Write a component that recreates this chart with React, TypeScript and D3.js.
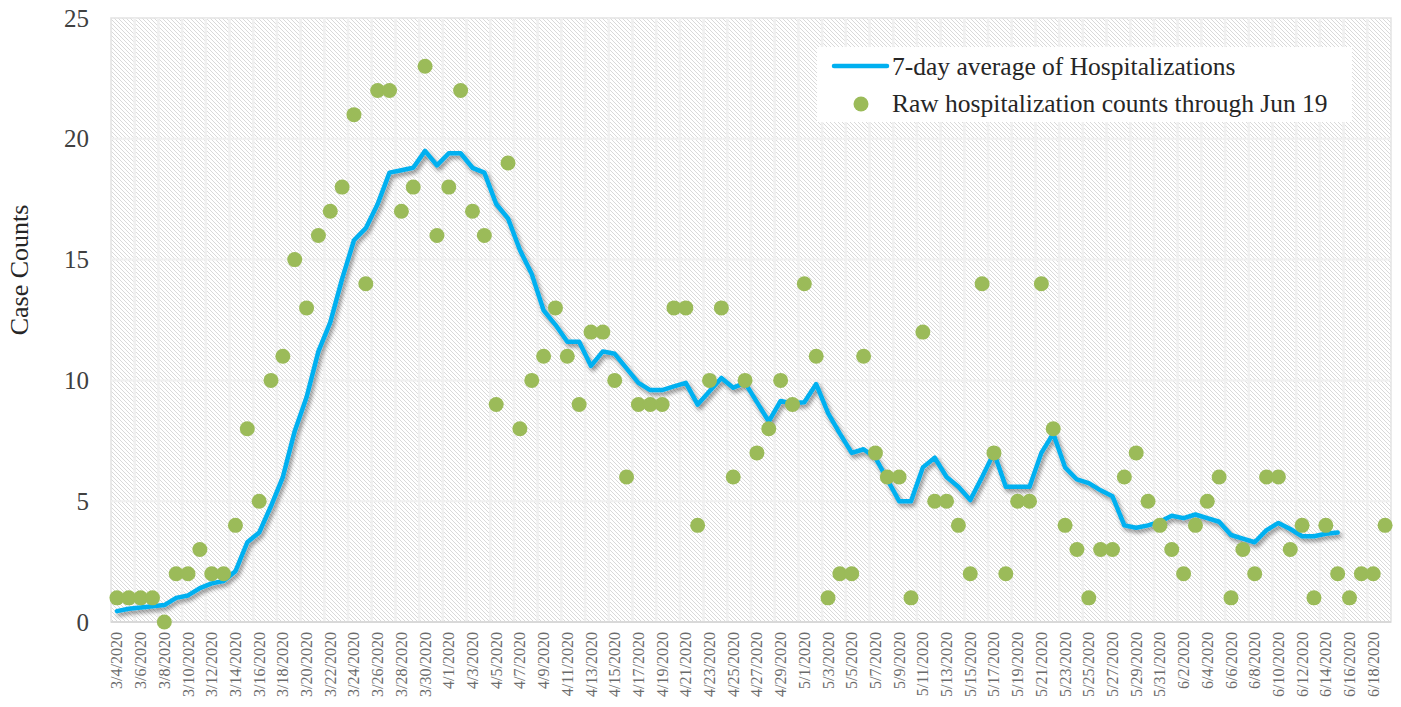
import * as d3 from "d3";
import { useEffect, useRef } from "react";

// one entry per day, 3/4/2020 .. 6/19/2020
const days = d3.timeDay.range(new Date(2020, 2, 4), new Date(2020, 5, 20));
const dateLabels = days.map((d) => `${d.getMonth() + 1}/${d.getDate()}/${d.getFullYear()}`);

const rawCounts = [
    1, 1, 1, 1, 0, 2, 2, 3, 2, 2, 4, 8, 5, 10, 11, 15, 13, 16, 17, 18, 21, 14, 22, 22, 17, 18, 23, 16,
    18, 22, 17, 16, 9, 19, 8, 10, 11, 13, 11, 9, 12, 12, 10, 6, 9, 9, 9, 13, 13, 4, 10, 13, 6, 10, 7, 8, 10, 9,
    14, 11, 1, 2, 2, 11, 7, 6, 6, 1, 12, 5, 5, 4, 2, 14, 7, 2, 5, 5, 14, 8, 4, 3, 1, 3, 3, 6, 7, 5, 4,
    3, 2, 4, 5, 6, 1, 3, 2, 6, 6, 3, 4, 1, 4, 2, 1, 2, 2, 4,
];

// 7-day average, runs through 6/15
const avg7 = [
    0.45, 0.55, 0.6, 0.65, 0.7, 1.0, 1.1, 1.4, 1.6, 1.7, 2.1, 3.3, 3.7, 4.8, 6.0, 7.9, 9.3, 11.2, 12.4,
    14.2, 15.8, 16.3, 17.3, 18.6, 18.7, 18.8, 19.5, 18.9, 19.4, 19.4, 18.8, 18.6,
    17.3, 16.7, 15.4, 14.4, 12.9, 12.3, 11.6, 11.6, 10.6, 11.2, 11.1, 10.5, 9.9, 9.6, 9.6, 9.75, 9.9, 9.0,
    9.55, 10.1, 9.7, 9.9, 9.1, 8.3, 9.15, 9.05, 9.1, 9.85, 8.65, 7.8, 7.0, 7.15, 6.8, 5.9, 5.0, 5.0,
    6.4, 6.8, 6.0, 5.6, 5.05, 6.0, 7.0, 5.6, 5.6, 5.6, 7.0, 7.8, 6.4, 5.9, 5.75, 5.45, 5.2, 4.0, 3.9,
    4.0, 4.15, 4.4, 4.3, 4.45, 4.3, 4.15, 3.6, 3.45, 3.3, 3.8, 4.1, 3.85, 3.55, 3.55, 3.65, 3.7,
];

const yTicks = [0, 5, 10, 15, 20, 25];
const legendItems = ["7-day average of Hospitalizations", "Raw hospitalization counts through Jun 19"];

const LINE_COLOR = "#00b0f0";
const DOT_COLOR = "#9bbb59";
const FONT = "'Liberation Serif', 'Times New Roman', serif";

const App = () => {
    const svgRef = useRef<SVGSVGElement | null>(null);

    const dimensions = { width: 1401, height: 707 };
    const margin = { top: 18, right: 10, bottom: 85, left: 111 };

    useEffect(() => {
        const svg = d3.select(svgRef.current);
        svg.selectAll("*").remove();

        const x = d3
            .scaleBand<string>()
            .domain(dateLabels)
            .range([margin.left, dimensions.width - margin.right])
            .padding(0);

        const y = d3
            .scaleLinear()
            .domain([0, 25])
            .range([dimensions.height - margin.bottom, margin.top]);

        const cx = (i: number) => (x(dateLabels[i]) as number) + x.bandwidth() / 2;

        const defs = svg.append("defs");
        const pat = defs
            .append("pattern")
            .attr("id", "hatch")
            .attr("patternUnits", "userSpaceOnUse")
            .attr("width", 4)
            .attr("height", 4);
        pat.append("rect").attr("width", 4).attr("height", 4).attr("fill", "#ffffff");
        pat.append("path")
            .attr("d", "M-1,-1 L5,5 M-1,3 L1,5 M3,-1 L5,1")
            .attr("stroke", "#d9d9d9")
            .attr("stroke-width", 1);

        const shadow = defs
            .append("filter")
            .attr("id", "shadow")
            .attr("x", "-10%")
            .attr("y", "-10%")
            .attr("width", "120%")
            .attr("height", "130%");
        shadow
            .append("feDropShadow")
            .attr("dx", 2)
            .attr("dy", 3)
            .attr("stdDeviation", 2)
            .attr("flood-color", "#000")
            .attr("flood-opacity", 0.45);

        const [x0, x1] = x.range();
        const plotTop = y(25);
        const plotBottom = y(0);

        // hatched background
        svg.append("rect")
            .attr("x", x0)
            .attr("y", plotTop)
            .attr("width", x1 - x0)
            .attr("height", plotBottom - plotTop)
            .attr("fill", "url(#hatch)")
            .attr("stroke", "#e3e3e3")
            .attr("stroke-width", 1.5);

        // vertical gridlines every two days
        const grid = svg.append("g");
        dateLabels.forEach((d, i) => {
            if (i % 2 !== 0 || i === 0) return;
            const gx = x(d) as number;
            grid.append("line")
                .attr("x1", gx)
                .attr("x2", gx)
                .attr("y1", plotTop)
                .attr("y2", plotBottom)
                .attr("stroke", "#f0f0f0")
                .attr("stroke-width", 2.5);
        });
        yTicks.slice(1, -1).forEach((t) => {
            grid.append("line")
                .attr("x1", x0)
                .attr("x2", x1)
                .attr("y1", y(t))
                .attr("y2", y(t))
                .attr("stroke", "#f0f0f0")
                .attr("stroke-width", 2);
        });

        // x axis baseline
        svg.append("line")
            .attr("x1", x0)
            .attr("x2", x1)
            .attr("y1", plotBottom)
            .attr("y2", plotBottom)
            .attr("stroke", "#d9d9d9")
            .attr("stroke-width", 2);

        // x labels
        const xl = svg.append("g");
        dateLabels.forEach((d, i) => {
            if (i % 2 !== 0) return;
            xl.append("text")
                .attr("transform", `translate(${cx(i) + 5.5}, ${plotBottom + 10}) rotate(-90)`)
                .attr("text-anchor", "end")
                .attr("font-family", FONT)
                .attr("font-size", 16)
                .attr("fill", "#6b6b6b")
                .text(d);
        });

        // y labels
        yTicks.forEach((t) => {
            svg.append("text")
                .attr("x", 89)
                .attr("y", y(t) + 8.5)
                .attr("text-anchor", "end")
                .attr("font-family", FONT)
                .attr("font-size", 25)
                .attr("fill", "#404040")
                .text(t);
        });

        svg.append("text")
            .attr("transform", `translate(28, 270) rotate(-90)`)
            .attr("text-anchor", "middle")
            .attr("font-family", FONT)
            .attr("font-size", 26)
            .attr("fill", "#262626")
            .text("Case Counts");

        // 7-day average line
        const line = d3
            .line<number>()
            .x((_, i) => cx(i))
            .y((d) => y(d));

        svg.append("path")
            .datum(avg7)
            .attr("d", line)
            .attr("fill", "none")
            .attr("stroke", LINE_COLOR)
            .attr("stroke-width", 4.5)
            .attr("stroke-linejoin", "round")
            .attr("stroke-linecap", "round")
            .attr("filter", "url(#shadow)");

        // raw counts
        svg.append("g")
            .selectAll("circle")
            .data(rawCounts)
            .join("circle")
            .attr("cx", (_, i) => cx(i))
            .attr("cy", (d) => y(d))
            .attr("r", 7.5)
            .attr("fill", DOT_COLOR);

        // legend
        const lg = svg.append("g");
        lg.append("rect")
            .attr("x", 817)
            .attr("y", 47)
            .attr("width", 535)
            .attr("height", 75)
            .attr("fill", "#ffffff");
        lg.append("line")
            .attr("x1", 834)
            .attr("x2", 887)
            .attr("y1", 66)
            .attr("y2", 66)
            .attr("stroke", LINE_COLOR)
            .attr("stroke-width", 4.5)
            .attr("stroke-linecap", "round");
        lg.append("circle").attr("cx", 861).attr("cy", 104).attr("r", 7.5).attr("fill", DOT_COLOR);
        legendItems.forEach((t, i) => {
            lg.append("text")
                .attr("x", 892)
                .attr("y", i === 0 ? 75 : 112)
                .attr("font-family", FONT)
                .attr("font-size", 25.5)
                .attr("fill", "#262626")
                .text(t);
        });
    }, []);

    return <svg ref={svgRef} width={dimensions.width} height={dimensions.height} style={{ display: "block", margin: -8 }} />;
};

export default App;
